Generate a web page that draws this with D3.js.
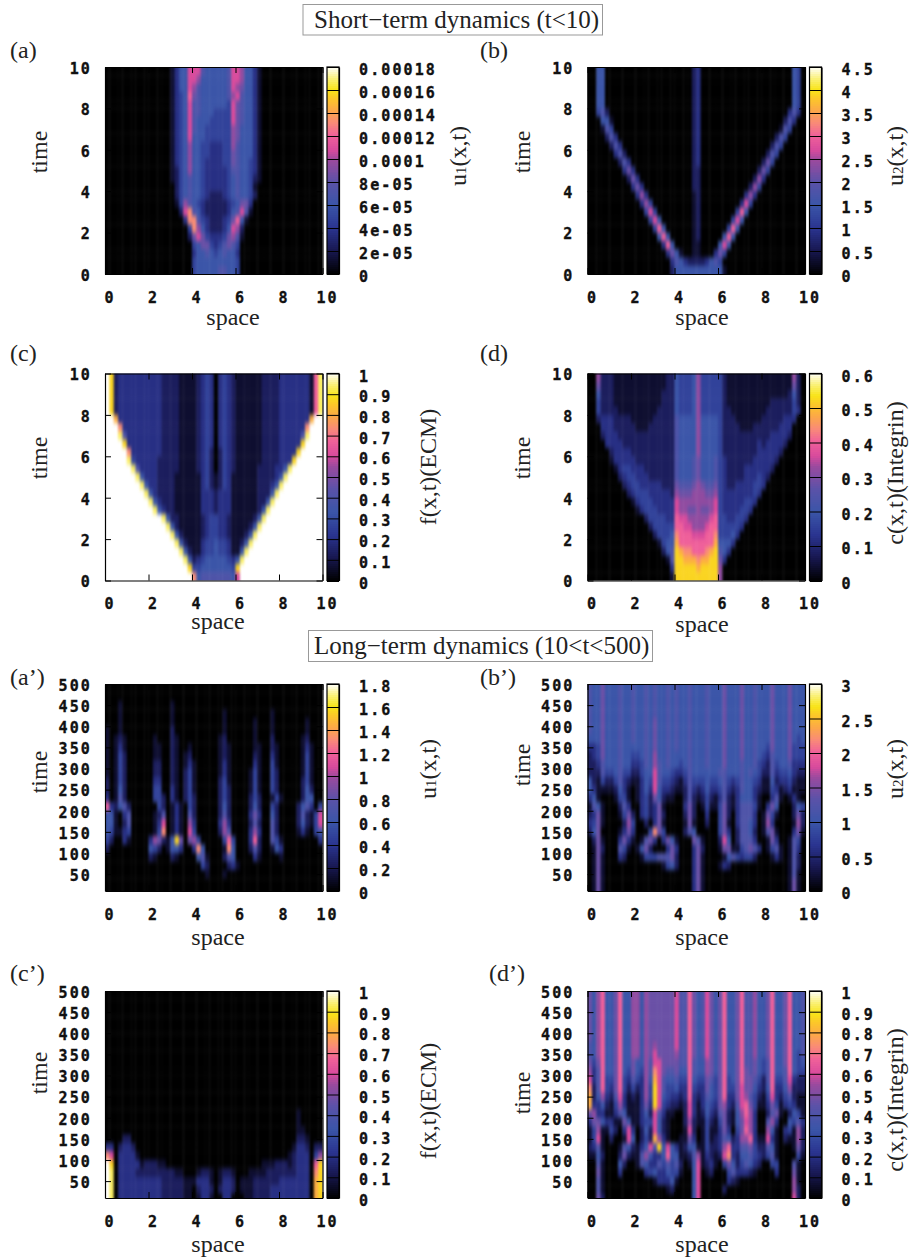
<!DOCTYPE html>
<html>
<head>
<meta charset="utf-8">
<script src="https://cdn.jsdelivr.net/npm/d3@7"></script>
<style>
  html, body { margin: 0; background: #fff; }
  svg { display: block; }
  .tick text { font-family: "DejaVu Sans Mono", monospace; font-weight: bold; font-size: 15px; letter-spacing: 2.1px; fill: #111; stroke: #111; stroke-width: 0.35px; }
  .serif { font-family: "Liberation Serif", serif; font-size: 24px; fill: #222; }
  .title { font-size: 25px; }
</style>
</head>
<body>
<svg id="chart" width="914" height="1260"></svg>
<script>
// Heat map values, one string per time row (top row = latest time), 50 columns of space.
// Each hex digit is the level 0-15 of the panel's colour range.
const gridA = [
  "0000000000 0000013559 9965555569 9855310000 0000000000",
  "0000000000 0000013559 9855555569 9855310000 0000000000",
  "0000000000 0000013559 8655555569 8755310000 0000000000",
  "0000000000 000001345a 7655555568 9655310000 0000000000",
  "0000000000 0000013459 6655555549 7655310000 0000000000",
  "0000000000 0000013459 6655544449 7655310000 0000000000",
  "0000000000 0000013459 6555444449 7655310000 0000000000",
  "0000000000 0000013459 6554444448 7555310000 0000000000",
  "0000000000 0000013459 5554444448 7555310000 0000000000",
  "0000000000 0000013458 5544333448 6555310000 0000000000",
  "0000000000 0000013458 5544333447 6555310000 0000000000",
  "0000000000 0000013458 5543333447 6554310000 0000000000",
  "0000000000 0000012458 5543333346 6554310000 0000000000",
  "0000000000 0000012456 5543333345 6554210000 0000000000",
  "0000000000 0000002456 5543333345 6554100000 0000000000",
  "0000000000 0000002456 5543222345 6554200000 0000000000",
  "0000000000 0000001486 5432222234 5773000000 0000000000",
  "0000000000 000000029b 6532222235 6961000000 0000000000",
  "0000000000 000000003b b643222347 a510000000 0000000000",
  "0000000000 0000000004 b853222359 8200000000 0000000000",
  "0000000000 0000000002 7974333478 6100000000 0000000000",
  "0000000000 0000000000 4577434676 4000000000 0000000000",
  "0000000000 0000000000 3556545655 3000000000 0000000000",
  "0000000000 0000000000 4555555555 4000000000 0000000000",
  "0000000000 0000000000 4555556655 4000000000 0000000000"
];
const gridB = [
  "0055000000 0000000000 0000230000 0000000000 0000000540",
  "0055000000 0000000000 0000230000 0000000000 0000000540",
  "0055000000 0000000000 0000230000 0000000000 0000000540",
  "0055000000 0000000000 0000230000 0000000000 0000000540",
  "0055000000 0000000000 0000230000 0000000000 0000000540",
  "0046200000 0000000000 0000230000 0000000000 0000003630",
  "0005510000 0000000000 0000230000 0000000000 0000026300",
  "0001640000 0000000000 0000230000 0000000000 0000164000",
  "0000263000 0000000000 0000230000 0000000000 0002640000",
  "0000026300 0000000000 0000230000 0000000000 0026400000",
  "0000003620 0000000000 0000230000 0000000000 0264000000",
  "0000000263 0000000000 0000230000 0000000000 2740000000",
  "0000000037 3000000000 0000220000 0000000002 7400000000",
  "0000000002 7300000000 0000220000 0000000028 3000000000",
  "0000000000 3730000000 0000220000 0000000284 0000000000",
  "0000000000 0383000000 0000120000 0000003830 0000000000",
  "0000000000 0038400000 0000120000 0000039400 0000000000",
  "0000000000 0004940000 0000120000 00004a5000 0000000000",
  "0000000000 0000495000 0000120000 0004950000 0000000000",
  "0000000000 000004a500 0000120000 004a500000 0000000000",
  "0000000000 0000005a50 0000120000 05a5000000 0000000000",
  "0000000000 00000003a5 0000110000 5950000000 0000000000",
  "0000000000 0000000037 5100110003 7400000000 0000000000",
  "0000000000 0000000003 6532222356 4000000000 0000000000",
  "0000000000 0000000002 5555555555 5100000000 0000000000"
];
const gridC = [
  "fd23333333 3332222111 1234303432 1111112222 33333331ae",
  "fd23333333 3332222111 1234303432 1111112222 33333331ae",
  "fd23333333 3332222111 1234303432 1111112222 33333331ae",
  "fd23333333 3332222111 1234303432 1111112222 33333331ae",
  "fd23333333 3332222111 1234303432 1111112222 33333331ae",
  "ffc3333333 3332222111 1234303432 1111112222 3333333cff",
  "fffb333333 3332222111 1234303432 1111112222 333333bfff",
  "fffe633333 3332222111 1234303432 1111112222 333336efff",
  "ffffd33333 3332222111 1234303432 1111112222 33333dffff",
  "fffffb3333 3332222111 1234202432 1111112222 3333dfffff",
  "fffffe4333 3322222111 1234202432 1111112222 333dffffff",
  "ffffffe633 3322222111 1234202432 1111122223 35efffffff",
  "fffffffe53 3322221111 1134212431 1111122223 5effffffff",
  "ffffffffe5 3322221111 1134212431 1111122235 efffffffff",
  "fffffffffe 5322221111 1133323331 111112225e ffffffffff",
  "ffffffffff e532221111 1133323331 11111225ef ffffffffff",
  "ffffffffff fe53221111 1133323331 1111125eff ffffffffff",
  "ffffffffff fffe522111 1123443321 111125efff ffffffffff",
  "ffffffffff ffffe52111 1123443321 11125effff ffffffffff",
  "ffffffffff fffffe5211 1123443321 1125efffff ffffffffff",
  "ffffffffff ffffffe521 1134454431 125effffff ffffffffff",
  "ffffffffff fffffffe52 1134454431 15efffffff ffffffffff",
  "ffffffffff ffffffffe5 2345555543 5effffffff ffffffffff",
  "ffffffffff fffffffffd 4455555554 dfffffffff ffffffffff",
  "ffffffffff ffffffffff b566666665 9fffffffff ffffffffff"
];
const gridD = [
  "0082221111 1111111122 5444584444 4211111111 1111111820",
  "0072221111 1111111122 5444584444 4211111111 1111111720",
  "0052221111 1111111222 5444584444 4211111111 1111112520",
  "0042221111 1111111222 5444584444 4211111111 1122222420",
  "0042222111 1111112222 5444584444 4221111111 1222222430",
  "0023332222 1111122222 6555585555 4222111111 2222233300",
  "0003332222 2111222222 6555585555 4222211122 2222333000",
  "0002333222 2222222222 6555585555 4222222222 2233332000",
  "0000333322 2222222222 6555585555 4222222223 2333320000",
  "0000023333 2222222222 6555585555 4222222223 3333200000",
  "0000013333 3222222222 6555675556 4322222233 3332000000",
  "0000001344 3332222222 6555675556 4322223333 3320000000",
  "0000000234 4333222222 6555675556 4322223334 3200000000",
  "0000000023 4433333222 7666787667 4322333344 3000000000",
  "0000000002 3444333332 8777888778 4333333343 0000000000",
  "0000000000 1344433333 9888888889 4333334430 0000000000",
  "0000000000 0134443333 9887787789 4333344300 0000000000",
  "0000000000 0002444433 a99888889a 4433443000 0000000000",
  "0000000000 0000244444 aa998889aa 4444430000 0000000000",
  "0000000000 0000024445 baaa999aab 4445300000 0000000000",
  "0000000000 0000001455 caaaaaaaac 5553000000 0000000000",
  "0000000000 0000000256 dcbbaaabcd 6530000000 0000000000",
  "0000000000 0000000016 ddcccbccdd 7300000000 0000000000",
  "0000000000 0000000003 dddddcdddd 8000000000 0000000000",
  "0000000000 0000000001 dddddddddd 8000000000 0000000000"
];
const gridAp = [
  "0000000000 0000000000 0000000000 0000000000 0000000000",
  "0000000000 0000000000 0000000000 0000000000 0000000000",
  "0001000000 0000010000 0000000000 0000000000 0000000000",
  "0001000000 0000010000 0000000100 0000000010 0000000000",
  "0001000000 0000010000 0000000100 0000100010 0000001000",
  "1001000000 0000020000 0000000100 0000100010 0000001000",
  "1012100000 0100021000 0000001200 0000100020 0000012000",
  "1013100000 0110021001 0000001210 0000110021 0000013100",
  "1014200000 0110021012 0000001210 0000210031 0000014100",
  "1014200000 0220021013 1000001310 0000310041 0000014100",
  "1014200000 0220021024 1000001310 0001410042 0000014100",
  "2014200000 0330021024 1000002410 0001410042 0000024100",
  "2015200000 0440031024 1000002420 0001410042 0000025200",
  "3016200000 0442031024 2000002420 0002420014 1000025500",
  "a325620000 0042013104 2000002520 0002520042 0000256304",
  "5510360000 0126013106 2000002620 0003730052 0000262149",
  "5510260000 0139013108 3000003830 0002620062 0000252149",
  "5411340000 014b013109 4000002860 0003830062 0000131045",
  "4200310000 387215d707 84000004a4 0003a20064 1000000003",
  "2000000000 5420155300 3b500001b5 0002620015 3000000000",
  "0000000000 2100021000 0561000265 0000310000 1000000000",
  "0000000000 0000000000 0042000023 1000000000 0000000000",
  "0000000000 0000000000 0001000100 0000000000 0000000000",
  "0000000000 0000000000 0000000000 0000000000 0000000000",
  "0000000000 0000000000 0000000000 0000000000 0000000000"
];
const gridBp = [
  "6557555655 6556565565 6556555655 5755575565 5575557555",
  "6557555655 6556565565 6556555655 5755575565 5575557555",
  "6557555655 6556565565 6556555655 5755575565 5575557555",
  "6557555655 6556565565 6556555655 5755575565 5575557555",
  "6557555655 6556575565 6556555655 5755575565 5575557555",
  "6557555655 6556575565 6556555655 5755575565 5575557555",
  "5557555655 6556575565 6556555655 5755575565 5575557545",
  "3347555655 5556575565 6556555655 5755575565 5475557444",
  "2347555655 4456585565 5556555655 5755575565 4365557444",
  "2236555655 3346586565 5456555655 5755565564 3264556333",
  "2226445644 2245596554 3346555555 6655565654 2263445322",
  "5214224632 1135496443 2136444544 5643465543 1152334211",
  "5311112531 0135395332 1126323533 4632365532 1143123111",
  "3510001441 0134275211 0026212421 3621355531 0036101310",
  "1651000263 0034237100 0037201411 4721366641 0375000254",
  "2371000147 2034237200 0027200300 4720366630 1741000272",
  "3471000028 4002037100 0017100200 4710366530 1830000182",
  "2570000137 30004b7400 0026500000 4730266520 1671000371",
  "0271000373 1016730375 1000761000 2950266630 0173001640",
  "0172000641 0157200037 3000372000 1771146763 0146101630",
  "0171000320 0014446667 2000371000 0156434420 0013101620",
  "0171000000 0000000145 2000371000 1320000000 0000001620",
  "0171000000 0000000000 0000371000 0000000000 0000001610",
  "0171000000 0000000000 0000371000 0000000000 0000001710",
  "0171000000 0000000000 0000371000 0000000000 0000001710"
];
const gridCp = [
  "0000000000 0000000000 0000000000 0000000000 0000000000",
  "0000000000 0000000000 0000000000 0000000000 0000000000",
  "0000000000 0000000000 0000000000 0000000000 0000000000",
  "0000000000 0000000000 0000000000 0000000000 0000000000",
  "0000000000 0000000000 0000000000 0000000000 0000000000",
  "0000000000 0000000000 0000000000 0000000000 0000000000",
  "0000000000 0000000000 0000000000 0000000000 0000000000",
  "0000000000 0000000000 0000000000 0000000000 0000000000",
  "0000000000 0000000000 0000000000 0000000000 0000000000",
  "0000000000 0000000000 0000000000 0000000000 0000000000",
  "0000000000 0000000000 0000000000 0000000000 0000000000",
  "0000000000 0000000000 0000000000 0000000000 0000000000",
  "0000000000 0000000000 0000000000 0000000000 0000000000",
  "0000000000 0000000000 0000000000 0000000000 0000000000",
  "0000000000 0000000000 0000000000 0000000000 0000100000",
  "0000000000 0000000000 0000000000 0000000000 0000100000",
  "0000000000 0000000000 0000000000 0000000000 0000110000",
  "0000220000 0000000000 0000000000 0000000000 0000221000",
  "3302332000 0000000000 0000000000 0000000000 0001332022",
  "b903333100 0000000000 0000000000 0000000000 0012333048",
  "fd03333312 2211000000 0000000000 0000001112 22123330ad",
  "fe03333222 2222221100 0122101221 0001111222 22223330bd",
  "fe03333333 3332222211 1333101332 0111222222 33333330cd",
  "fe03333333 3332222211 0233202332 0111222233 33333330cd",
  "fe03333333 3332222211 0133100330 0011222233 33333330cd"
];
const gridDp = [
  "758a557a55 8858777777 966a756975 7a557a6685 57a557a556",
  "758a557a55 8858777777 966a756975 7a557a6685 57a557a556",
  "758a557a55 8858777777 966a756975 7a557a6685 57a557a556",
  "758a557a55 8858777777 966a756975 7a557a6685 57a557a556",
  "758a557a55 8858777777 966a756975 7a557a6685 57a557a556",
  "758a557a55 8858777777 966a756975 7a557a6685 57a557a556",
  "658a557a55 8858787777 966a756975 7a557a6685 57a557a556",
  "658a557a55 8858797777 866a756975 7a557a6685 57a557a546",
  "747a557a55 7558699777 766a655875 7a557a6675 46a557a545",
  "836a557a54 75486b9766 755a655875 7a557a7675 46a556a544",
  "936a447a43 64385c9655 644a544764 7a457a7764 26a4469322",
  "b26a437a42 42384d9644 533a433754 7a44797753 25a3358222",
  "c258326931 21384d9543 323a323654 7a33798642 1493246211",
  "c335214831 11373d9432 2129313543 783269a741 1374134311",
  "7833113651 1135296311 0029312532 672158a830 0267102541",
  "3775331175 1134495210 0028211421 4721579830 0683005463",
  "1481142039 3025295210 0019201411 373047a830 0851034182",
  "1491020019 50242c8310 0117301412 3652388a31 1931021182",
  "2361000165 213596d595 3125511422 38a3366742 2651000172",
  "1152000272 11685335a5 5112681321 29b3255643 2461000041",
  "0061000520 0165336464 6201591231 0475246532 0044000610",
  "0071000300 0003453354 4100590120 0046333210 0003000710",
  "0061000000 0000013335 1000590000 0032100000 0000000810",
  "0061000000 0000000012 0000590000 0200000000 0000000820",
  "0072000000 0000000000 0000590000 0000000000 0000000920"
];

// Axis ticks
const spaceTicks = [0, 2, 4, 6, 8, 10];
const shortTimeTicks = [0, 2, 4, 6, 8, 10];
const longTimeTicks = [50, 100, 150, 200, 250, 300, 350, 400, 450, 500];

// Colour bar ticks and their labels
const u1ShortValues = [0, 2e-5, 4e-5, 6e-5, 8e-5, 1e-4, 1.2e-4, 1.4e-4, 1.6e-4, 1.8e-4];
const u1ShortLabels = ["0", "2e-05", "4e-05", "6e-05", "8e-05", "0.0001", "0.00012", "0.00014", "0.00016", "0.00018"];
const u2ShortValues = [0, 0.5, 1, 1.5, 2, 2.5, 3, 3.5, 4, 4.5];
const u2ShortLabels = ["0", "0.5", "1", "1.5", "2", "2.5", "3", "3.5", "4", "4.5"];
const tenthValues = [0, 0.1, 0.2, 0.3, 0.4, 0.5, 0.6, 0.7, 0.8, 0.9, 1];
const tenthLabels = ["0", "0.1", "0.2", "0.3", "0.4", "0.5", "0.6", "0.7", "0.8", "0.9", "1"];
const cShortValues = [0, 0.1, 0.2, 0.3, 0.4, 0.5, 0.6];
const cShortLabels = ["0", "0.1", "0.2", "0.3", "0.4", "0.5", "0.6"];
const u1LongValues = [0, 0.2, 0.4, 0.6, 0.8, 1, 1.2, 1.4, 1.6, 1.8];
const u1LongLabels = ["0", "0.2", "0.4", "0.6", "0.8", "1", "1.2", "1.4", "1.6", "1.8"];
const u2LongValues = [0, 0.5, 1, 1.5, 2, 2.5, 3];
const u2LongLabels = ["0", "0.5", "1", "1.5", "2", "2.5", "3"];

// Palette
const paletteStops = [0, 0.11, 0.22, 0.33, 0.44, 0.55, 0.6, 0.67, 0.73, 0.79, 0.85, 0.89, 0.94, 1];
const paletteColors = ["#000000", "#17174f", "#2a3490", "#3a55a8", "#5a52a8", "#9a4a9e", "#d84a9c", "#f0609a", "#f98a78", "#fca848", "#fcc828", "#f8e418", "#faf070", "#ffffff"];
const palette = d3.scaleLinear().domain(paletteStops).range(paletteColors).clamp(true);

const COLS = 50, ROWS = 25;
const leftX = 105, rightX = 587.5, plotW = 217.5, plotH = 207, barGap = 4.5, barW = 12;

const panels = [
  { tag: "(a)", grid: gridA, px: leftX, py: 67, tagX: 10, tagY: 58, tMin: 0, tMax: 10, yTicks: shortTimeTicks, barV: u1ShortValues, barL: u1ShortLabels, name: ["u", "1", "(x,t)"], nameX: 466, nameY: 156, timeY: 152, spaceX: 233, spaceY: 325 },
  { tag: "(b)", grid: gridB, px: rightX, py: 67, tagX: 480, tagY: 58, tMin: 0, tMax: 10, yTicks: shortTimeTicks, barV: u2ShortValues, barL: u2ShortLabels, name: ["u", "2", "(x,t)"], nameX: 903, nameY: 156, timeY: 152, spaceX: 702, spaceY: 325 },
  { tag: "(c)", grid: gridC, px: leftX, py: 373.5, tagX: 10, tagY: 361, tMin: 0, tMax: 10, yTicks: shortTimeTicks, barV: tenthValues, barL: tenthLabels, name: ["f(x,t)(ECM)"], nameX: 436, nameY: 467, timeY: 458, spaceX: 218, spaceY: 629 },
  { tag: "(d)", grid: gridD, px: rightX, py: 373.5, tagX: 480, tagY: 361, tMin: 0, tMax: 10, yTicks: shortTimeTicks, barV: cShortValues, barL: cShortLabels, name: ["c(x,t)(Integrin)"], nameX: 903, nameY: 473, timeY: 458, spaceX: 702, spaceY: 632 },
  { tag: "(a’)", grid: gridAp, px: leftX, py: 684, tagX: 10, tagY: 685, tMin: 10, tMax: 500, yTicks: longTimeTicks, barV: u1LongValues, barL: u1LongLabels, name: ["u", "1", "(x,t)"], nameX: 436, nameY: 769, timeY: 772, spaceX: 218, spaceY: 945 },
  { tag: "(b’)", grid: gridBp, px: rightX, py: 684, tagX: 480, tagY: 685, tMin: 10, tMax: 500, yTicks: longTimeTicks, barV: u2LongValues, barL: u2LongLabels, name: ["u", "2", "(x,t)"], nameX: 903, nameY: 769, timeY: 765, spaceX: 702, spaceY: 945 },
  { tag: "(c’)", grid: gridCp, px: leftX, py: 991, tagX: 10, tagY: 981, tMin: 10, tMax: 500, yTicks: longTimeTicks, barV: tenthValues, barL: tenthLabels, name: ["f(x,t)(ECM)"], nameX: 436, nameY: 1101, timeY: 1073, spaceX: 218, spaceY: 1252 },
  { tag: "(d’)", grid: gridDp, px: rightX, py: 991, tagX: 489, tagY: 981, tMin: 10, tMax: 500, yTicks: longTimeTicks, barV: tenthValues, barL: tenthLabels, name: ["c(x,t)(Integrin)"], nameX: 903, nameY: 1100, timeY: 1093, spaceX: 702, spaceY: 1252 }
];

const svg = d3.select("#chart");

// Soft filter: the original is a smoothed pm3d surface
const defs = svg.append("defs");
defs.append("filter").attr("id", "soft")
  .attr("x", "-10%").attr("y", "-10%").attr("width", "120%").attr("height", "120%")
  .attr("color-interpolation-filters", "sRGB")
  .append("feGaussianBlur").attr("stdDeviation", "1.2 2.8");

// Section title boxes
const titles = [
  { text: "Short−term dynamics (t<10)", x: 303, y: 4.5, w: 299.5, h: 30.5, tx: 314, ty: 28 },
  { text: "Long−term dynamics (10<t<500)", x: 308.5, y: 630.5, w: 344, h: 31, tx: 314, ty: 654 }
];
titles.forEach(t => {
  svg.append("rect").attr("x", t.x).attr("y", t.y).attr("width", t.w).attr("height", t.h)
    .attr("fill", "#fff").attr("stroke", "#999").attr("stroke-width", 1);
  svg.append("text").attr("class", "serif title").attr("x", t.tx).attr("y", t.ty).text(t.text);
});

panels.forEach((p, idx) => drawPanel(p, idx));

function drawPanel(p, idx) {
  const g = svg.append("g").attr("transform", `translate(${p.px},${p.py})`);
  const x = d3.scaleLinear().domain([0, 10]).range([0, plotW]);
  const y = d3.scaleLinear().domain([p.tMin, p.tMax]).range([plotH, 0]);
  const top = p.tMax;
  const dt = (p.tMax === 10 ? 10 : 500) / ROWS;
  const dx = 10 / COLS;

  const maxValue = p.barV[p.barV.length - 1];
  const color = d3.scaleLinear().domain([0, maxValue]).range([0, 1]);

  // Decode the strings into cells
  const cells = [];
  p.grid.forEach((row, r) => {
    const chars = row.replace(/ /g, "");
    d3.range(COLS).forEach(c => {
      const level = parseInt(chars[c] || "0", 16);
      cells.push({ space: c * dx, time: top - r * dt, r: r, c: c, value: level / 15 * maxValue });
    });
  });

  // Clip to the plot frame; outer cells run past it so the blur keeps their colour at the edge
  const clipId = "clip" + idx;
  defs.append("clipPath").attr("id", clipId).append("rect")
    .attr("width", plotW).attr("height", plotH);
  const pad = 14;
  g.append("g").attr("clip-path", `url(#${clipId})`)
    .append("g").attr("filter", "url(#soft)")
    .selectAll("rect")
    .data(cells)
    .enter().append("rect")
    .attr("x", d => x(d.space) - (d.c === 0 ? pad : 0))
    .attr("y", d => y(d.time) - (d.r === 0 ? pad : 0))
    .attr("width", d => x(d.space + dx) - x(d.space) + 0.4 + (d.c === 0 || d.c === COLS - 1 ? pad : 0))
    .attr("height", d => y(d.time - dt) - y(d.time) + 0.4 + (d.r === 0 || d.r === ROWS - 1 ? pad : 0))
    .attr("fill", d => palette(color(d.value)));

  // Axes with inward ticks on all four sides
  const styleAxis = a => {
    a.selectAll("path.domain").attr("stroke", "#000").attr("stroke-width", 1.2);
    a.selectAll("line").attr("stroke", "#000").attr("stroke-width", 1);
    a.selectAll("text").attr("fill", "#111");
  };
  g.append("g").attr("transform", `translate(0,${plotH})`)
    .call(d3.axisBottom(x).tickValues(spaceTicks).tickSize(-6).tickSizeOuter(0).tickPadding(18))
    .call(styleAxis)
    .selectAll("text").attr("dx", 4.5);
  g.append("g")
    .call(d3.axisTop(x).tickValues(spaceTicks).tickSize(-6).tickSizeOuter(0).tickFormat(""))
    .call(styleAxis);
  g.append("g")
    .call(d3.axisLeft(y).tickValues(p.yTicks).tickSize(-6).tickSizeOuter(0).tickPadding(13))
    .call(styleAxis)
    .selectAll("text").attr("dy", "0.42em");
  g.append("g").attr("transform", `translate(${plotW},0)`)
    .call(d3.axisRight(y).tickValues(p.yTicks).tickSize(-6).tickSizeOuter(0).tickFormat(""))
    .call(styleAxis);

  // Colour bar
  const barX = plotW + barGap;
  const barScale = d3.scaleLinear().domain([0, maxValue]).range([plotH, 0]);
  const bar = g.append("g").attr("transform", `translate(${barX},0)`);
  const barSteps = d3.range(0, 104).map(i => i / 104 * maxValue);
  bar.selectAll("rect")
    .data(barSteps)
    .enter().append("rect")
    .attr("x", 0)
    .attr("width", barW)
    .attr("y", d => barScale(d + maxValue / 104))
    .attr("height", plotH / 104 + 1)
    .attr("shape-rendering", "crispEdges")
    .attr("fill", d => palette(color(d)));
  bar.append("rect").attr("width", barW).attr("height", plotH)
    .attr("fill", "none").attr("stroke", "#000").attr("stroke-width", 1.2);
  bar.append("g").attr("transform", `translate(${barW},0)`)
    .call(d3.axisRight(barScale).tickValues(p.barV).tickSize(-barW).tickSizeOuter(0).tickPadding(20)
      .tickFormat((d, i) => p.barL[i]))
    .call(styleAxis)
    .selectAll("text").attr("dy", "0.5em");

  // Text labels
  svg.append("text").attr("class", "serif").attr("x", p.tagX).attr("y", p.tagY).text(p.tag);
  svg.append("text").attr("class", "serif").attr("x", p.spaceX).attr("y", p.spaceY)
    .attr("text-anchor", "middle").text("space");
  svg.append("text").attr("class", "serif")
    .attr("transform", `translate(${p.px - 58},${p.timeY}) rotate(-90)`)
    .attr("text-anchor", "middle").text("time");
  const nameText = svg.append("text").attr("class", "serif")
    .attr("transform", `translate(${p.nameX},${p.nameY}) rotate(-90)`)
    .attr("text-anchor", "middle");
  p.name.forEach((part, i) => {
    const span = nameText.append("tspan").text(part);
    if (p.name.length === 3 && i === 1) span.style("font-size", "15px");
  });
}
</script>
</body>
</html>
